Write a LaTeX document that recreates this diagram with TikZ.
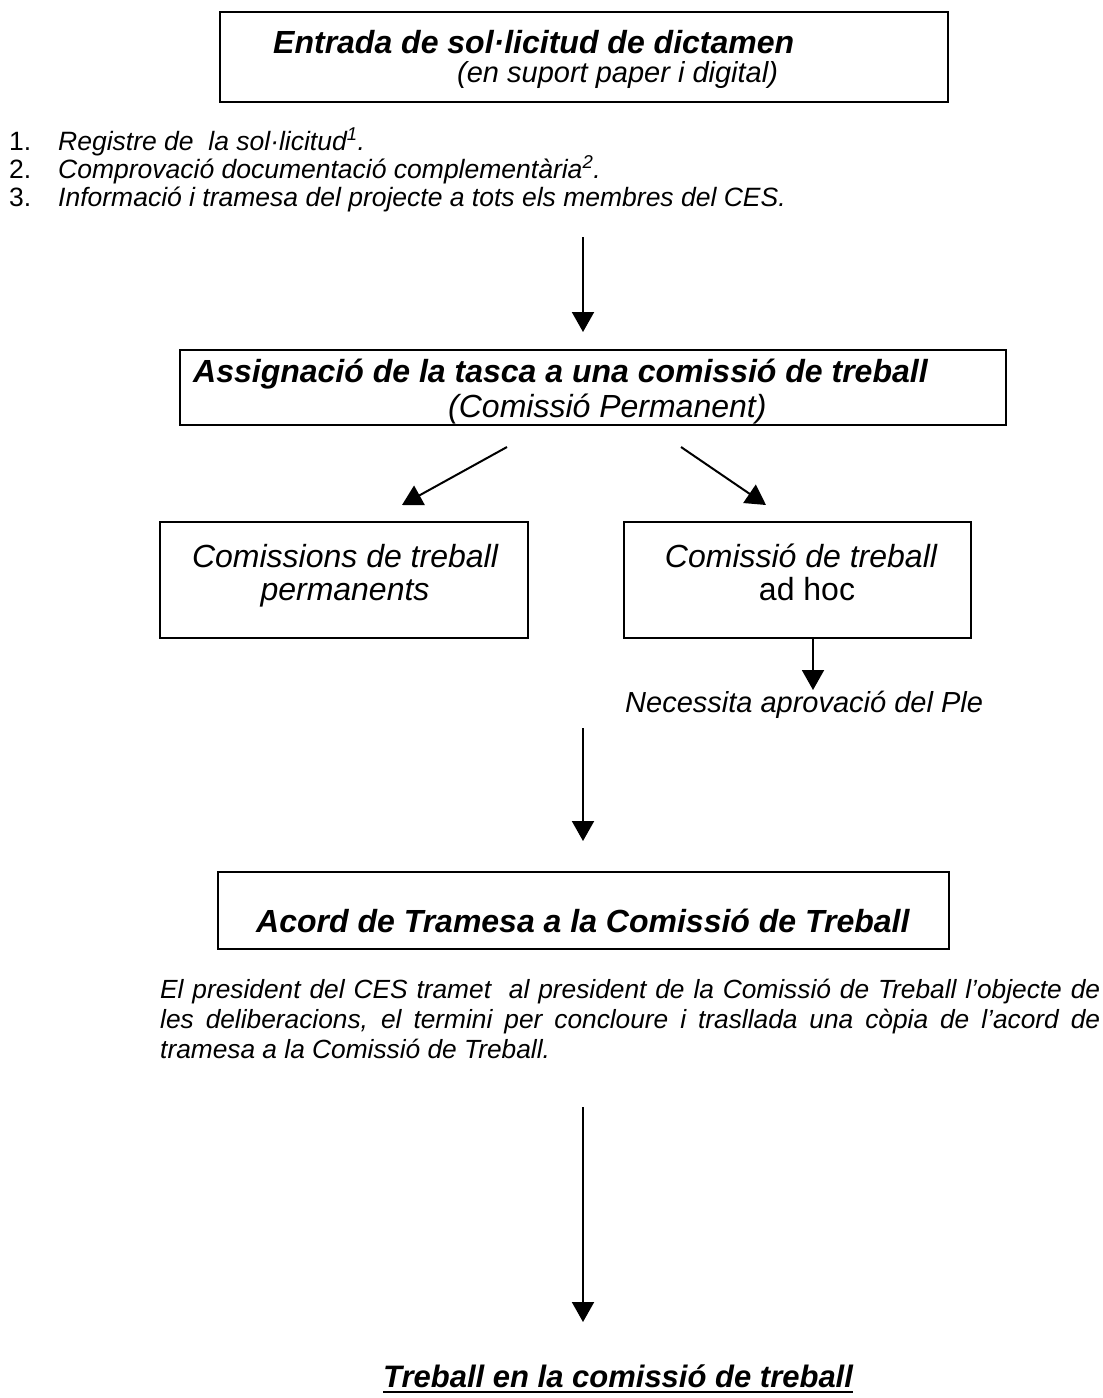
\documentclass[tikz,border=0pt]{standalone}
\usepackage{fontspec}
\setmainfont{Liberation Sans}
\usetikzlibrary{arrows.meta}
\begin{document}
\begin{tikzpicture}[x=1pt,y=-1pt,
  box/.style={draw, line width=1.5pt, inner sep=0pt, anchor=north west},
  lbl/.style={inner sep=0pt, anchor=base west},
  clbl/.style={inner sep=0pt, anchor=base},
  arr/.style={line width=2pt, -{Triangle[width=22pt,length=20pt]}},
  bigbi/.style={font=\fontsize{32}{37}\selectfont\bfseries\itshape},
  bigi/.style={font=\fontsize{32}{37}\selectfont\itshape},
  bigr/.style={font=\fontsize{32}{37}\selectfont},
  midi/.style={font=\fontsize{29}{33}\selectfont\itshape},
  midbi/.style={font=\fontsize{31}{36}\selectfont\bfseries\itshape},
  txti/.style={font=\fontsize{26.5}{29}\selectfont\itshape},
  txtr/.style={font=\fontsize{26.5}{29}\selectfont},
  pari/.style={font=\fontsize{26.3}{30}\selectfont\itshape}]
\useasboundingbox (0,0) rectangle (1103,1398);

% box 1
\node[box, minimum width=728pt, minimum height=90pt] (b1) at (219,11) {};
\node[lbl, bigbi] (t1) at (273,53) {Entrada de sol·licitud de dictamen};
\node[lbl, midi] (t1b) at (457,82) {(en suport paper i digital)};

% list
\node[lbl, txtr] (n1) at (9,150) {1.};
\node[lbl, txti] (l1) at (58,150) {Registre de\ \ la sol·licitud\textsuperscript{1}.};
\node[lbl, txtr] (n2) at (9,178) {2.};
\node[lbl, txti] (l2) at (58,178) {Comprovació documentació complementària\textsuperscript{2}.};
\node[lbl, txtr] (n3) at (9,206) {3.};
\node[lbl, txti] (l3) at (58,206) {Informació i tramesa del projecte a tots els membres del CES.};

% arrow 1
\coordinate (a1s) at (583,237);
\coordinate (a1e) at (583,332);
\draw[arr] (a1s) -- (a1e);

% box 2
\node[box, minimum width=826pt, minimum height=75pt] (b2) at (179,349) {};
\node[lbl, bigbi] (t2) at (193,382) {Assignació de la tasca a una comissió de treball};
\node[lbl, bigi] (t2b) at (448,417) {(Comissió Permanent)};

% diagonal arrows
\coordinate (dls) at (507,447);
\coordinate (dle) at (402,505);
\coordinate (drs) at (681,447);
\coordinate (dre) at (766,505);
\draw[arr] (dls) -- (dle);
\draw[arr] (drs) -- (dre);

% box 3
\node[box, minimum width=368pt, minimum height=116pt] (b3) at (159,521) {};
\node[clbl, bigi] (t3a) at (345,567) {Comissions de treball};
\node[clbl, bigi] (t3b) at (345,600) {permanents};

% box 4
\node[box, minimum width=347pt, minimum height=116pt] (b4) at (623,521) {};
\node[clbl, bigi] (t4a) at (801,567) {Comissió de treball};
\node[clbl, bigr] (t4b) at (807,600) {ad hoc};

% arrow from box 4
\coordinate (a4s) at (813,637);
\coordinate (a4e) at (813,690);
\draw[arr] (a4s) -- (a4e);
\node[lbl, midi] (nec) at (625,712) {Necessita aprovació del Ple};

% arrow 2
\coordinate (a2s) at (583,728);
\coordinate (a2e) at (583,841);
\draw[arr] (a2s) -- (a2e);

% box 5
\node[box, minimum width=731pt, minimum height=77pt] (b5) at (217,871) {};
\node[lbl, bigbi] (t5) at (256,932) {Acord de Tramesa a la Comissió de Treball};

% paragraph
\node[lbl, pari, text width=940pt, align=justify] (par) at (160,998)
 {El president del CES tramet\ \ al president de la Comissió de Treball l’objecte de\linebreak
  les deliberacions, el termini per concloure i trasllada una còpia de l’acord de\linebreak
  tramesa a la Comissió de Treball.};

% arrow 3
\coordinate (a3s) at (583,1107);
\coordinate (a3e) at (583,1322);
\draw[arr] (a3s) -- (a3e);

% bottom text
\node[lbl, midbi] (t6) at (383,1387) {Treball en la comissió de treball};
\draw[line width=2pt] ([yshift=-5pt]t6.base west) -- ([yshift=-5pt]t6.base east);
\end{tikzpicture}
\end{document}
